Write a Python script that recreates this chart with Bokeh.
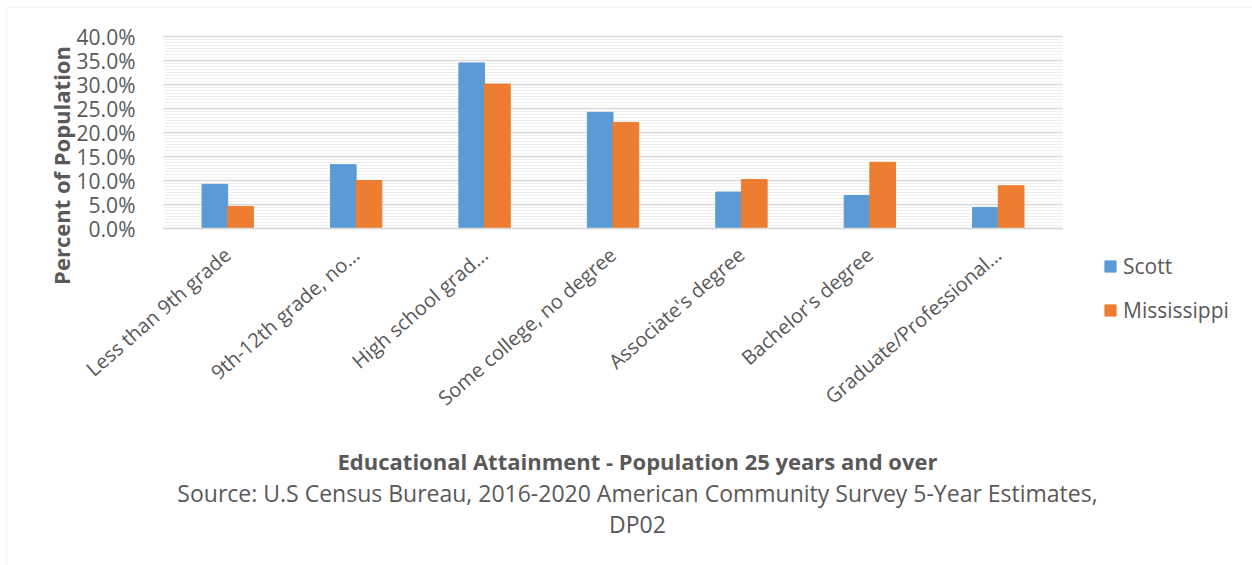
from math import pi, radians
from bokeh.plotting import figure
from bokeh.models import (Range1d, SingleIntervalTicker, FixedTicker, NumeralTickFormatter,
                          Legend, LegendItem, Label, BoxAnnotation, ColumnDataSource)
from bokeh.transform import dodge
from bokeh.embed import file_html
from bokeh.resources import INLINE

# ---- data ----
categories = ["Less than 9th grade", "9th-12th grade, no\u2026", "High school grad\u2026",
              "Some college, no degree", "Associate's degree", "Bachelor's degree",
              "Graduate/Professional\u2026"]
scott = [0.092, 0.133, 0.345, 0.242, 0.076, 0.069, 0.044]
mississippi = [0.046, 0.100, 0.301, 0.221, 0.102, 0.138, 0.089]
series_names = ["Scott", "Mississippi"]
y_axis_title = "Percent of Population"
x_axis_title = "Educational Attainment - Population 25 years and over"
source_line1 = "Source: U.S Census Bureau, 2016-2020 American Community Survey 5-Year Estimates,"
source_line2 = "DP02"

FONT = "Open Sans"
GREY = "#595959"
BLUE = "#5B9BD5"
ORANGE = "#ED7D31"

W, H = 1252, 565
# plot-area placement in the canvas (pixels)
FL, FR, FT, FB = 163, 1062, 36, 228
n = len(categories)
ux = (FR - FL) / n            # px per category
uy = (FB - FT) / 0.40         # px per unit of y

def sx(px):  # canvas px -> x data
    return -0.5 + (px - FL) / ux

def sy(py):  # canvas px -> y data
    return (FB - py) / uy

positions = list(range(n))
src = ColumnDataSource(dict(x=positions, scott=scott, miss=mississippi))

p = figure(x_range=Range1d(sx(0), sx(W)), y_range=Range1d(sy(H), sy(0)),
           width=W, height=H, output_backend="svg", toolbar_location=None,
           min_border=0, min_border_left=0, min_border_right=0,
           min_border_top=0, min_border_bottom=0)
p.outline_line_color = None
p.background_fill_color = "white"
p.border_fill_color = "white"

r1 = p.vbar(x=dodge("x", -0.1), top="scott", width=0.2, source=src,
            fill_color=BLUE, line_color=BLUE)
r2 = p.vbar(x=dodge("x", 0.1), top="miss", width=0.2, source=src,
            fill_color=ORANGE, line_color=ORANGE)

# y axis / grid
yt = SingleIntervalTicker(interval=0.05, num_minor_ticks=8)
p.yaxis.ticker = yt
p.ygrid.ticker = yt
p.yaxis.bounds = (0, 0.40)
p.yaxis.fixed_location = -0.5
p.yaxis.formatter = NumeralTickFormatter(format="0.0%")
p.ygrid.bounds = (0, 0.40)
p.ygrid.cross_bounds = (-0.5, n - 0.5)
p.xgrid.grid_line_color = None
p.ygrid.grid_line_color = "#d9d9d9"
p.ygrid.grid_line_width = 1.3
p.ygrid.minor_grid_line_color = "#f0f0f0"
p.ygrid.minor_grid_line_width = 1

p.yaxis.axis_line_color = None
p.yaxis.major_tick_line_color = None
p.yaxis.minor_tick_line_color = None
p.yaxis.major_label_text_font = FONT
p.yaxis.major_label_text_font_size = "21px"
p.yaxis.major_label_text_color = GREY
p.yaxis.major_label_standoff = 22

# x axis at y=0 with category labels
p.xaxis.ticker = FixedTicker(ticks=positions)
p.xaxis.major_label_overrides = {i: c for i, c in zip(positions, categories)}
p.xaxis.fixed_location = 0
p.xaxis.bounds = (-0.5, n - 0.5)
p.xaxis.axis_line_color = "#d9d9d9"
p.xaxis.axis_line_width = 1.5
p.xaxis.major_tick_line_color = None
p.xaxis.minor_tick_line_color = None
p.xaxis.major_label_orientation = radians(41)
p.xaxis.major_label_text_font = FONT
p.xaxis.major_label_text_font_size = "20px"
p.xaxis.major_label_text_color = GREY
p.xaxis.major_label_standoff = 17

legend = Legend(items=[LegendItem(label=series_names[0], renderers=[r1]),
                       LegendItem(label=series_names[1], renderers=[r2])],
                location=(1103, H - 324), orientation="vertical",
                glyph_width=14, glyph_height=14, label_height=14, spacing=16,
                padding=0, margin=0, border_line_color=None, background_fill_color=None,
                background_fill_alpha=0, label_text_font=FONT, label_text_font_size="21px",
                label_text_color=GREY, label_standoff=6)
p.add_layout(legend)

# titles
p.add_layout(Label(x=sx(60), y=sy(165), text=y_axis_title, angle=pi / 2, text_align="center",
                   text_baseline="middle", text_font=FONT, text_font_style="bold",
                   text_font_size="22px", text_color=GREY))
p.add_layout(Label(x=sx(637), y=sy(460), text=x_axis_title, text_align="center",
                   text_baseline="middle", text_font=FONT, text_font_style="bold",
                   text_font_size="22px", text_color=GREY))
p.add_layout(Label(x=sx(637), y=sy(492), text=source_line1, text_align="center",
                   text_baseline="middle", text_font=FONT,
                   text_font_size="23px", text_color=GREY))
p.add_layout(Label(x=sx(637), y=sy(523), text=source_line2, text_align="center",
                   text_baseline="middle", text_font=FONT,
                   text_font_size="23px", text_color=GREY))

# outer chart border
p.add_layout(BoxAnnotation(left=6.5, top=6.5, right=1400, bottom=800,
                           left_units="canvas", right_units="canvas",
                           top_units="canvas", bottom_units="canvas",
                           fill_alpha=0, line_color="#d9d9d9", line_width=1.5))

open("out.html", "w").write(file_html(p, INLINE))
